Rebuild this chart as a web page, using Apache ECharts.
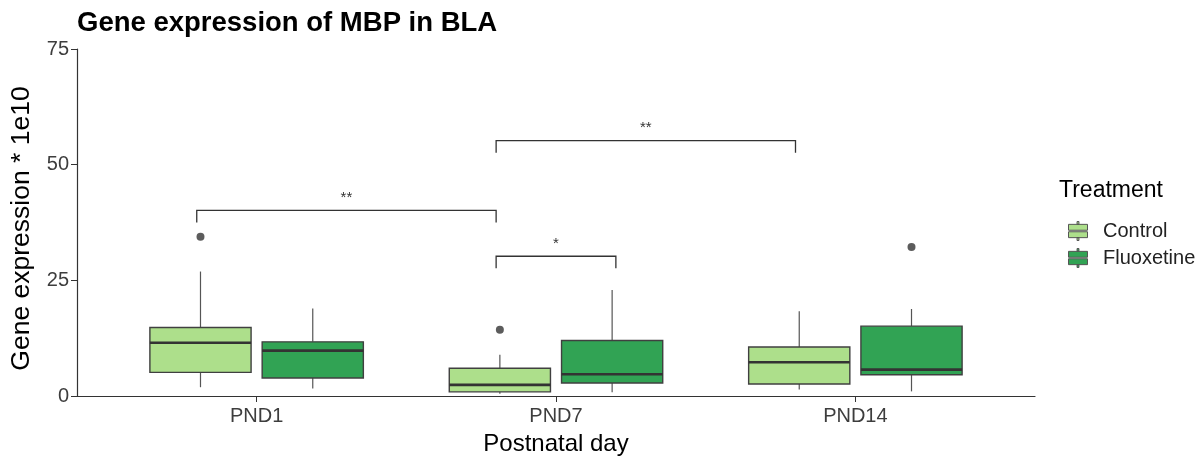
<!DOCTYPE html>
<html>
<head>
<meta charset="utf-8">
<title>Gene expression of MBP in BLA</title>
<script src="https://cdn.jsdelivr.net/npm/echarts@6/dist/echarts.min.js"></script>
<style>
  html, body { margin: 0; padding: 0; background: #fff; }
  #chart { width: 1200px; height: 461px; }
</style>
</head>
<body>
<div id="chart"></div>
<script>
// ---- data ----
const days = ["PND1", "PND7", "PND14"];
// [low whisker, q1, median, q3, high whisker]
const controlBoxes = [
  [1.9, 5.1, 11.5, 14.8, 26.9],
  [0.5, 0.9, 2.4, 6.0, 8.9],
  [1.4, 2.6, 7.3, 10.6, 18.3]
];
const fluoxBoxes = [
  [1.6, 3.9, 9.8, 11.7, 18.9],
  [0.8, 2.8, 4.7, 12.0, 22.9],
  [1.0, 4.6, 5.7, 15.1, 18.8]
];
// outliers: [day index, value]
const controlOutliers = [[0, 34.4], [1, 14.3]];
const fluoxOutliers = [[2, 32.2]];
// significance brackets: [x start, x end, y, label]
const bracketX1 = [0.8, 1.8, 1.8];
const bracketX2 = [1.8, 2.2, 2.8];
const bracketY = [40.1, 30.2, 55.2];
const bracketLabels = ["**", "*", "**"];

const ctrlColor = "#addf8b";
const fluoxColor = "#31a354";
const dodge = 0.1875;
const halfBox = 0.169;
const font = "Liberation Sans, Arial, sans-serif";

const chart = echarts.init(document.getElementById("chart"));

function boxRender(offset) {
  return function (params, api) {
    const x = api.value(0) + 1 + offset;
    const low = api.value(1), q1 = api.value(2), med = api.value(3), q3 = api.value(4), high = api.value(5);
    const pL = api.coord([x - halfBox, q3]);
    const pR = api.coord([x + halfBox, q1]);
    const c = api.coord([x, med]);
    const pLow = api.coord([x, low]);
    const pHigh = api.coord([x, high]);
    const pQ1 = api.coord([x, q1]);
    const pQ3 = api.coord([x, q3]);
    const col = api.visual("color");
    return {
      type: "group",
      children: [
        { type: "line", shape: { x1: pHigh[0], y1: pHigh[1], x2: pQ3[0], y2: pQ3[1] }, style: { stroke: "#555", lineWidth: 1.2 } },
        { type: "line", shape: { x1: pQ1[0], y1: pQ1[1], x2: pLow[0], y2: pLow[1] }, style: { stroke: "#555", lineWidth: 1.2 } },
        { type: "rect", shape: { x: pL[0], y: pL[1], width: pR[0] - pL[0], height: pR[1] - pL[1] }, style: { fill: col, stroke: "#404040", lineWidth: 1.4 } },
        { type: "line", shape: { x1: pL[0], y1: c[1], x2: pR[0], y2: c[1] }, style: { stroke: "#333", lineWidth: 2.6 } }
      ]
    };
  };
}

const boxData = (arr) => arr.map((b, i) => [i].concat(b));

const bracketData = bracketX1.map((x1, i) => [x1, bracketX2[i], bracketY[i], bracketLabels[i]]);

const option = {
  animation: false,
  textStyle: { fontFamily: font },
  title: [
    {
      text: "Gene expression of MBP in BLA",
      left: 77, top: 9, padding: 0,
      textStyle: { fontSize: 27.5, fontWeight: "bold", color: "#000", fontFamily: font }
    },
    {
      text: "Treatment",
      left: 1059, top: 179, padding: 0,
      textStyle: { fontSize: 23, fontWeight: "normal", color: "#000", fontFamily: font }
    }
  ],
  legend: {
    orient: "vertical",
    left: 1063, top: 216,
    itemWidth: 20, itemHeight: 19, itemGap: 7,
    icon: "path://M9,0h2v3h-2z M0,3h20v6.2h-20z M0,10.8h20v6.2h-20z M9,17h2v3h-2z",
    itemStyle: { borderColor: "#555", borderWidth: 1 },
    textStyle: { fontSize: 20, color: "#222", padding: [0, 0, 0, 10] },
    data: ["Control", "Fluoxetine"]
  },
  grid: { left: 76, right: 165, top: 49, bottom: 64 },
  xAxis: {
    type: "value",
    min: 0.4, max: 3.6,
    name: "Postnatal day",
    nameLocation: "middle",
    nameGap: 36,
    nameTextStyle: { fontSize: 24, color: "#000" },
    splitLine: { show: false },
    axisLine: { lineStyle: { color: "#333", width: 1.2 } },
    axisTick: { show: true, customValues: [1, 2, 3], length: 6, lineStyle: { color: "#333" } },
    axisLabel: {
      customValues: [1, 2, 3],
      formatter: (v) => days[Math.round(v) - 1],
      fontSize: 20, color: "#3d3d3d", margin: 10
    }
  },
  yAxis: {
    type: "value",
    min: 0, max: 75, interval: 25,
    name: "Gene expression * 1e10",
    nameLocation: "middle",
    nameGap: 42,
    nameTextStyle: { fontSize: 26.5, color: "#000", padding: [0, 12, 0, 0] },
    splitLine: { show: false },
    axisLine: { show: true, lineStyle: { color: "#333", width: 1.2 } },
    axisTick: { show: true, length: 6, lineStyle: { color: "#333" } },
    axisLabel: { fontSize: 20, color: "#3d3d3d", margin: 8 }
  },
  series: [
    {
      name: "Control", type: "custom",
      itemStyle: { color: ctrlColor },
      renderItem: boxRender(-dodge),
      encode: { x: 0, y: [1, 2, 3, 4, 5] },
      data: boxData(controlBoxes), z: 3
    },
    {
      name: "Fluoxetine", type: "custom",
      itemStyle: { color: fluoxColor },
      renderItem: boxRender(dodge),
      encode: { x: 0, y: [1, 2, 3, 4, 5] },
      data: boxData(fluoxBoxes), z: 3
    },
    {
      type: "scatter", symbolSize: 8,
      itemStyle: { color: "#333" },
      data: controlOutliers.map(o => [o[0] + 1 - dodge, o[1]]), z: 4
    },
    {
      type: "scatter", symbolSize: 8,
      itemStyle: { color: "#333" },
      data: fluoxOutliers.map(o => [o[0] + 1 + dodge, o[1]]), z: 4
    },
    {
      type: "custom",
      renderItem: function (params, api) {
        const x1 = api.value(0), x2 = api.value(1), y = api.value(2);
        const tip = 2.6;
        const a = api.coord([x1, y - tip]);
        const b = api.coord([x1, y]);
        const c = api.coord([x2, y]);
        const d = api.coord([x2, y - tip]);
        const lab = bracketData[params.dataIndex][3];
        return {
          type: "group",
          children: [
            { type: "polyline", shape: { points: [a, b, c, d] }, style: { stroke: "#333", lineWidth: 1.3, fill: null } },
            { type: "text", style: { text: lab, x: (b[0] + c[0]) / 2, y: b[1] - 5, align: "center", verticalAlign: "bottom", fontSize: 15, fill: "#333", fontFamily: font } }
          ]
        };
      },
      encode: { x: [0, 1], y: 2 },
      data: bracketData, z: 2
    }
  ]
};

chart.setOption(option);
</script>
</body>
</html>
